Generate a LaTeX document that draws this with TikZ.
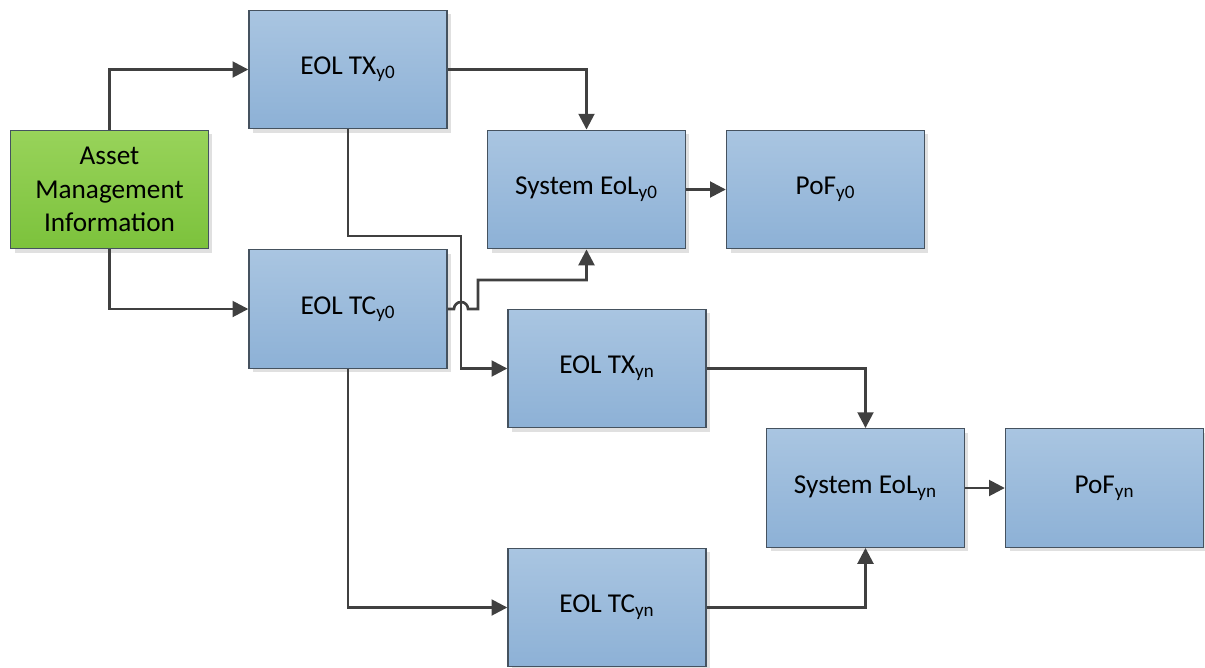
\documentclass[tikz,border=0pt]{standalone}
\usepackage{fontspec}
\setmainfont{Carlito}
\usepackage{tikz}
\usetikzlibrary{arrows.meta}
\usetikzlibrary{shadows}
\usetikzlibrary{positioning}
\definecolor{boxtop}{HTML}{A9C5E1}
\definecolor{boxbottom}{HTML}{8DB1D6}
\definecolor{greentop}{HTML}{98D35A}
\definecolor{greenbottom}{HTML}{7CC23C}
\definecolor{boxline}{HTML}{45525F}
\definecolor{linkline}{HTML}{404040}
\tikzstyle{line} = [draw=linkline, line width=1.5pt, -{Triangle[length=9pt,width=9pt]}]

\begin{document}
\begin{tikzpicture}[x=0.02cm, y=0.02cm,
			stage/.style={draw=boxline, line width=0.8pt, rectangle, minimum width=3.96cm, minimum height=2.37cm,
				top color=boxtop, bottom color=boxbottom,
				drop shadow={shadow xshift=0.08cm, shadow yshift=-0.08cm, fill=black!12, opacity=1}},
			every text node part/.style={align=center},
			every node/.style={font=\fontsize{15.5}{19}\selectfont}]
			\useasboundingbox (0,0) rectangle (1205,-667);

			\node[stage, top color=greentop, bottom color=greenbottom](info) at (109.5, -189.5) {Asset\\Management\\Information};

			\node[stage](tx0) at (348, -69.5) {EOL TX\textsubscript{y0}};
			\node[stage](tc0) at (348, -309) {EOL TC\textsubscript{y0}};
			\node[stage](sys0) at (586.5, -189.5) {System EoL\textsubscript{y0}};
			\node[stage](pof0) at (825.5, -189.5) {PoF\textsubscript{y0}};

			\node[stage](txn) at (607, -368.5) {EOL TX\textsubscript{yn}};
			\node[stage](tcn) at (607, -607.5) {EOL TC\textsubscript{yn}};
			\node[stage](sysn) at (865.5, -488) {System EoL\textsubscript{yn}};
			\node[stage](pofn) at (1104.5, -488) {PoF\textsubscript{yn}};

			\coordinate (bendtx) at (461, -236);
			\coordinate (bendtc) at (478, -280);

			\draw[line] (info.north) |- (tx0.west);
			\draw[line] (info.south) |- (tc0.west);
			\draw[line] (tx0.east) -| (sys0.north);
			\draw[line] (sys0) -- (pof0);
			\draw[line] (tx0.south) |- (bendtx) |- (txn.west);
			% hop over the TX line
			\draw[line] (tc0.east) -- (454, -309) arc[start angle=180, end angle=0, radius=0.14cm] -- (bendtc |- tc0.east) -- (bendtc) -| (sys0.south);
			\draw[line] (tc0.south) |- (tcn.west);
			\draw[line] (txn.east) -| (sysn.north);
			\draw[line] (tcn.east) -| (sysn.south);
			\draw[line] (sysn) -- (pofn);
		\end{tikzpicture}
\end{document}
